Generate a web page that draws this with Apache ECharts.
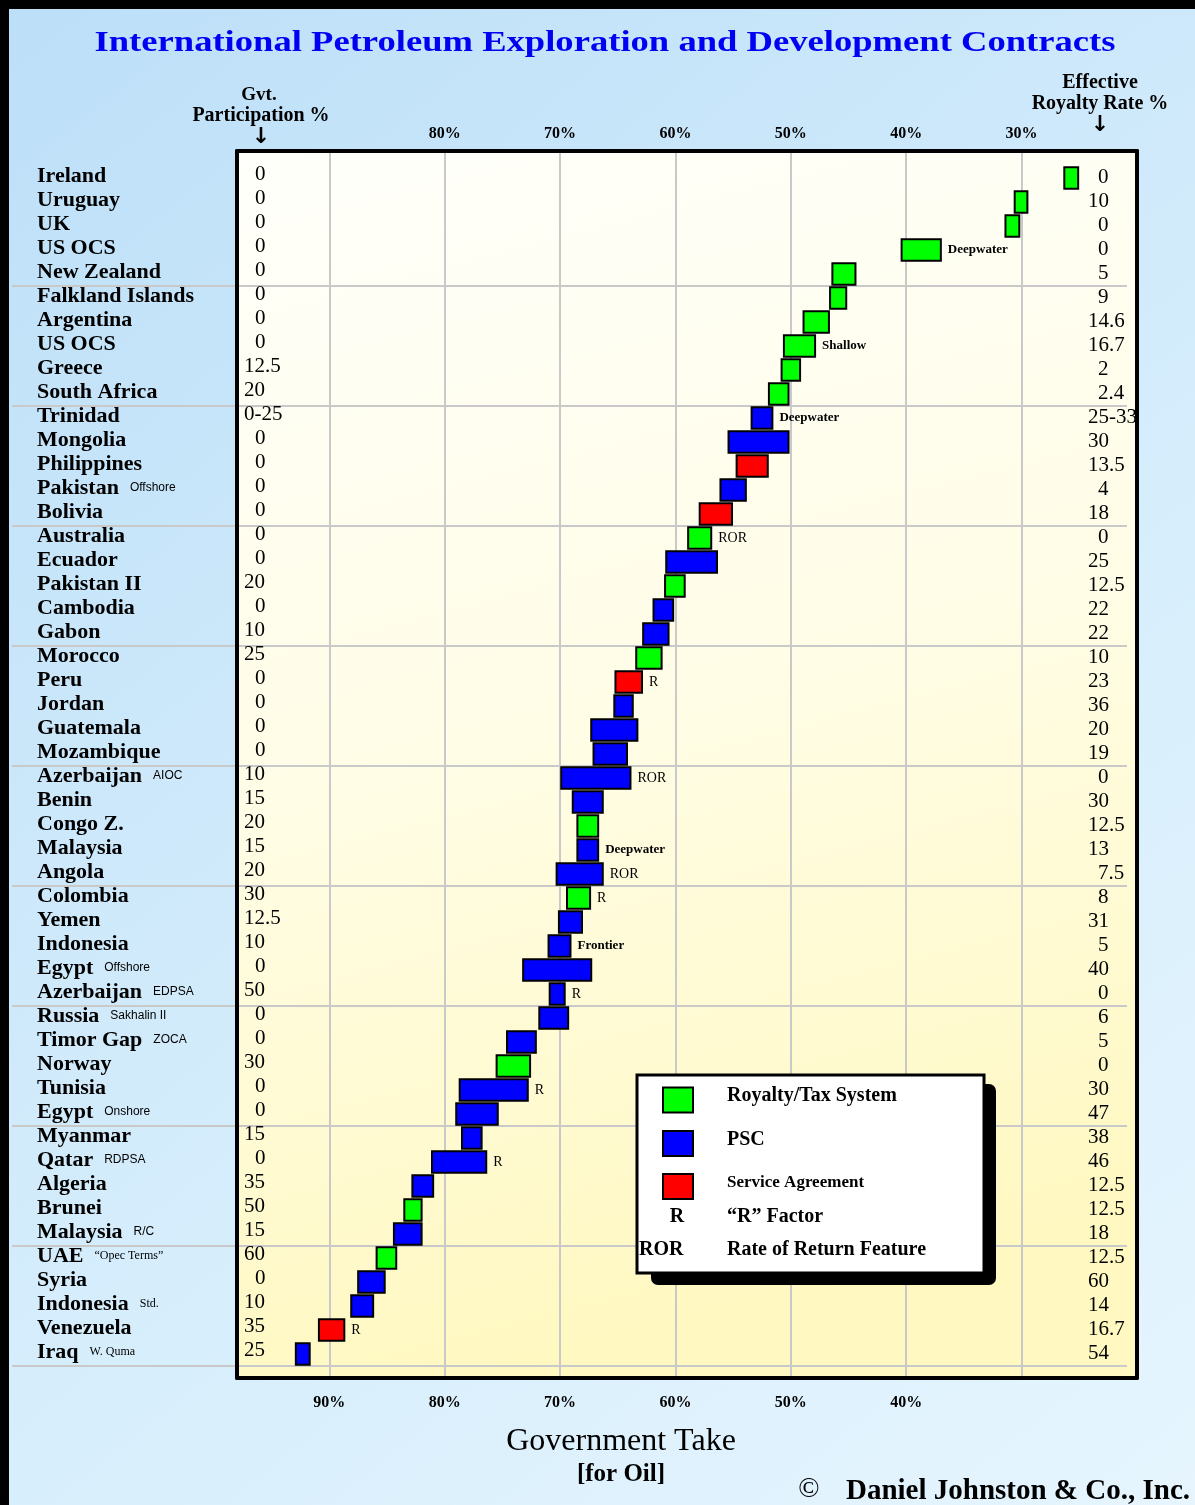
<!DOCTYPE html>
<html>
<head>
<meta charset="utf-8">
<script src="https://cdn.jsdelivr.net/npm/echarts@6/dist/echarts.min.js"></script>
<style>
html,body{margin:0;padding:0;background:#fff;}
#c{width:1195px;height:1505px;}
</style>
</head>
<body>
<div id="c"></div>
<script>
// ---------------- DATA ----------------
const countries = ['Ireland','Uruguay','UK','US OCS','New Zealand','Falkland Islands','Argentina','US OCS','Greece','South Africa',
  'Trinidad','Mongolia','Philippines','Pakistan','Bolivia','Australia','Ecuador','Pakistan II','Cambodia','Gabon',
  'Morocco','Peru','Jordan','Guatemala','Mozambique','Azerbaijan','Benin','Congo Z.','Malaysia','Angola',
  'Colombia','Yemen','Indonesia','Egypt','Azerbaijan','Russia','Timor Gap','Norway','Tunisia','Egypt',
  'Myanmar','Qatar','Algeria','Brunei','Malaysia','UAE','Syria','Indonesia','Venezuela','Iraq'];

const countryNotes = ['','','','','','','','','','',
  '','','','Offshore','','','','','','',
  '','','','','','AIOC','','','','',
  '','','','Offshore','EDPSA','Sakhalin II','ZOCA','','','Onshore',
  '','RDPSA','','','R/C','\u201cOpec Terms\u201d','','Std.','','W. Quma'];

const participation = ['0','0','0','0','0','0','0','0','12.5','20',
  '0-25','0','0','0','0','0','0','20','0','10',
  '25','0','0','0','0','10','15','20','15','20',
  '30','12.5','10','0','50','0','0','30','0','0',
  '15','0','35','50','15','60','0','10','35','25'];

const royalty = ['0','10','0','0','5','9','14.6','16.7','2','2.4',
  '25-33','30','13.5','4','18','0','25','12.5','22','22',
  '10','23','36','20','19','0','30','12.5','13','7.5',
  '8','31','5','40','0','6','5','0','30','47',
  '38','46','12.5','12.5','18','12.5','60','14','16.7','54'];

// Government take range (%) : high end (left) and low end (right)
const takeHigh = [26.3,30.6,31.4,40.4,46.4,46.6,48.9,50.6,50.8,51.9,
  53.4,55.4,54.7,56.1,57.9,58.9,60.8,60.9,61.9,62.8,
  63.4,65.2,65.3,67.3,67.1,69.9,68.9,68.5,68.5,70.3,
  69.4,70.1,71.0,73.2,70.9,71.8,74.6,75.5,78.7,79.0,
  78.5,81.1,82.8,83.5,84.4,85.9,87.5,88.1,90.9,92.9];
const takeLow = [25.1,29.5,30.2,37.0,44.4,45.2,46.7,47.9,49.2,50.2,
  51.6,50.2,52.0,53.9,55.1,56.9,56.4,59.2,60.2,60.6,
  61.2,62.9,63.7,63.3,64.2,63.9,66.3,66.7,66.7,66.3,
  67.4,68.1,69.1,67.3,69.6,69.3,72.1,72.6,72.8,75.4,
  76.8,76.4,81.0,82.0,82.0,84.2,85.2,86.2,88.7,91.7];

// G = Royalty/Tax System, P = PSC, S = Service Agreement
const systemType = ['G','G','G','G','G','G','G','G','G','G',
  'P','P','S','P','S','G','P','G','P','P',
  'G','S','P','P','P','P','P','G','P','P',
  'G','P','P','P','P','P','P','G','P','P',
  'P','P','P','G','P','G','P','P','S','P'];

const remarks = ['','','','Deepwater','','','','Shallow','','',
  'Deepwater','','','','','ROR','','','','',
  '','R','','','','ROR','','','Deepwater','ROR',
  'R','','Frontier','','R','','','','R','',
  '','R','','','','','','','R',''];

const topTicks = [80,70,60,50,40,30];
const bottomTicks = [90,80,70,60,50,40];

const systemNames = {G:'Royalty/Tax System', P:'PSC', S:'Service Agreement'};
const systemColors = {G:'#00ff00', P:'#0000ff', S:'#ff0000'};

// ---------------- CHART ----------------
const SERIF = '"Liberation Serif", "Times New Roman", serif';
const SANS = '"Liberation Sans", Arial, sans-serif';
const sansNotes = new Set(['Offshore','Onshore','AIOC','EDPSA','ZOCA','RDPSA','R/C','Sakhalin II']);

function numLabel(s) {
  const pad = s.split('.')[0].length === 1;
  return (pad ? '{p|' : '{q|') + s + '}';
}

function renderBox(params, api) {
  const row = api.value(0);
  const a = api.coord([api.value(1), row]);
  const b = api.coord([api.value(2), row]);
  const h = api.size([0, 1])[1] * 0.9;
  const x0 = Math.min(a[0], b[0]), x1 = Math.max(a[0], b[0]);
  const cy = a[1];
  const kids = [{
    type: 'rect',
    shape: {x: x0, y: cy - h / 2, width: x1 - x0, height: h},
    style: {fill: api.visual('color'), stroke: '#000', lineWidth: 2}
  }];
  const r = remarks[row];
  if (r) {
    const bold = r.length > 3;
    kids.push({
      type: 'text',
      style: {
        text: r, x: x1 + 7, y: cy, align: 'left', verticalAlign: 'middle',
        fontFamily: SERIF, fontSize: bold ? 13 : 14, fontWeight: bold ? 'bold' : 'normal', fill: '#000'
      }
    });
  }
  return {type: 'group', children: kids};
}

const series = ['G','P','S'].map(t => ({
  name: systemNames[t],
  type: 'custom',
  coordinateSystem: 'cartesian2d',
  xAxisIndex: 3,
  yAxisIndex: 5,
  clip: false,
  z: 3,
  itemStyle: {color: systemColors[t]},
  encode: {x: [1, 2], y: 0},
  renderItem: renderBox,
  data: countries.map((c, i) => [i, takeHigh[i], takeLow[i]]).filter(d => systemType[d[0]] === t)
}));

const frameLine = {show: true, onZero: false, lineStyle: {color: '#000', width: 4}};
const gridLine = {color: '#c9c9c9', width: 2};

const option = {
  animation: false,
  backgroundColor: {
    type: 'linear', x: 0, y: 0, x2: 1, y2: 1,
    colorStops: [{offset: 0, color: '#bcdff8'}, {offset: 0.6, color: '#d7eefc'}, {offset: 1, color: '#e6f5fe'}]
  },
  grid: [
    {left: 237, right: 58, top: 151, bottom: 127, show: true, borderWidth: 0, outerBoundsMode: 'none',
     backgroundColor: {type: 'linear', x: 0, y: 0, x2: 0.35, y2: 1,
       colorStops: [{offset: 0, color: '#fffffb'}, {offset: 0.5, color: '#fffde6'}, {offset: 1, color: '#fff8c0'}]}},
    {left: 12, right: 68, top: 166, bottom: 139, outerBoundsMode: 'none'},
    {left: 237, right: 58, top: 166, bottom: 139, outerBoundsMode: 'none'}
  ],
  xAxis: [
    {gridIndex: 0, type: 'value', position: 'top', min: 20, max: 98, interval: 10, inverse: true,
     axisLine: frameLine, axisTick: {show: false},
     axisLabel: {margin: 9, color: '#000', fontFamily: SERIF, fontWeight: 'bold', fontSize: 16,
       formatter: v => topTicks.indexOf(v) >= 0 ? v + '%' : ''},
     splitLine: {show: true, lineStyle: gridLine}},
    {gridIndex: 0, type: 'value', position: 'bottom', min: 20, max: 98, interval: 10, inverse: true,
     axisLine: frameLine, axisTick: {show: false},
     axisLabel: {margin: 17, color: '#000', fontFamily: SERIF, fontWeight: 'bold', fontSize: 16,
       formatter: v => bottomTicks.indexOf(v) >= 0 ? v + '%' : ''},
     splitLine: {show: false}},
    {gridIndex: 1, type: 'value', show: false},
    {gridIndex: 2, type: 'value', min: 20, max: 98, inverse: true, show: false}
  ],
  yAxis: [
    {gridIndex: 0, type: 'value', position: 'left', z: 5, axisLine: frameLine, axisTick: {show: false},
     axisLabel: {show: false}, splitLine: {show: false}},
    {gridIndex: 0, type: 'value', position: 'right', z: 5, axisLine: frameLine, axisTick: {show: false},
     axisLabel: {show: false}, splitLine: {show: false}},
    {gridIndex: 1, type: 'category', data: countries, inverse: true, position: 'left',
     axisLine: {show: false}, axisTick: {show: false},
     splitLine: {show: true, interval: (i) => i > 0 && i % 5 === 0, lineStyle: gridLine},
     axisLabel: {interval: 0, align: 'left', margin: -25, padding: [0, 0, 4, 0],
       formatter: (v, i) => {
         let s = '{n|' + countries[i] + '}';
         const nt = countryNotes[i];
         if (nt) s += (sansNotes.has(nt) ? '{t|' : '{s|') + nt + '}';
         return s;
       },
       rich: {
         n: {fontFamily: SERIF, fontWeight: 'bold', fontSize: 22, color: '#000'},
         s: {fontFamily: SERIF, fontSize: 12, color: '#000', padding: [0, 0, 1, 11]},
         t: {fontFamily: SANS, fontSize: 12, color: '#000', padding: [0, 0, 1, 11]}
       }}},
    {gridIndex: 1, type: 'category', data: countries, inverse: true, position: 'left',
     axisLine: {show: false}, axisTick: {show: false}, splitLine: {show: false},
     axisLabel: {interval: 0, align: 'left', margin: -232, padding: [0, 0, 8, 0],
       formatter: (v, i) => numLabel(participation[i]),
       rich: {
         p: {fontFamily: SERIF, fontSize: 21, color: '#000', padding: [0, 0, 0, 11]},
         q: {fontFamily: SERIF, fontSize: 21, color: '#000'}
       }}},
    {gridIndex: 1, type: 'category', data: countries, inverse: true, position: 'right',
     axisLine: {show: false}, axisTick: {show: false}, splitLine: {show: false},
     axisLabel: {interval: 0, align: 'left', margin: -39, padding: [0, 0, 1, 0],
       formatter: (v, i) => numLabel(royalty[i]),
       rich: {
         p: {fontFamily: SERIF, fontSize: 21, color: '#000', padding: [0, 0, 0, 10]},
         q: {fontFamily: SERIF, fontSize: 21, color: '#000'}
       }}},
    {gridIndex: 2, type: 'category', data: countries, inverse: true, show: false}
  ],
  legend: {
    data: [systemNames.G, systemNames.P, systemNames.S],
    orient: 'vertical', left: 662, top: 1086, padding: 0,
    itemWidth: 30, itemHeight: 25, itemGap: 16, icon: 'rect', selectedMode: false, z: 30,
    itemStyle: {borderColor: '#000', borderWidth: 2},
    formatter: name => name === 'Service Agreement' ? '{s|' + name + '}' : '{m|' + name + '}',
    textStyle: {
      color: '#000', fontFamily: SERIF, fontWeight: 'bold', fontSize: 20, padding: [0, 0, 8, 29],
      rich: {
        m: {fontFamily: SERIF, fontWeight: 'bold', fontSize: 20, color: '#000'},
        s: {fontFamily: SERIF, fontWeight: 'bold', fontSize: 17, color: '#000'}
      }
    }
  },
  graphic: [
    {type: 'rect', z: 50, shape: {x: 0, y: 0, width: 1195, height: 9}, style: {fill: '#000'}},
    {type: 'rect', z: 50, shape: {x: 0, y: 0, width: 9, height: 1505}, style: {fill: '#000'}},
    {type: 'text', x: 605, y: 43, scaleX: 1.22, z: 10,
     style: {text: 'International Petroleum Exploration and Development Contracts', align: 'center', verticalAlign: 'middle',
       font: 'bold 30px ' + SERIF, fill: '#0000f2'}},
    {type: 'text', x: 259, y: 95, z: 10, style: {text: 'Gvt.', align: 'center', verticalAlign: 'middle', font: 'bold 19px ' + SERIF, fill: '#000'}},
    {type: 'text', x: 261, y: 116, z: 10, style: {text: 'Participation %', align: 'center', verticalAlign: 'middle', font: 'bold 20px ' + SERIF, fill: '#000'}},
    {type: 'text', x: 261, y: 137, z: 10, style: {text: '\u2193', align: 'center', verticalAlign: 'middle', font: 'bold 22px "DejaVu Sans"', fill: '#000'}},
    {type: 'text', x: 1100, y: 83, z: 10, style: {text: 'Effective', align: 'center', verticalAlign: 'middle', font: 'bold 20px ' + SERIF, fill: '#000'}},
    {type: 'text', x: 1100, y: 104, z: 10, style: {text: 'Royalty Rate %', align: 'center', verticalAlign: 'middle', font: 'bold 20px ' + SERIF, fill: '#000'}},
    {type: 'text', x: 1100, y: 125, z: 10, style: {text: '\u2193', align: 'center', verticalAlign: 'middle', font: 'bold 22px "DejaVu Sans"', fill: '#000'}},
    {type: 'text', x: 621, y: 1442, z: 10, style: {text: 'Government Take', align: 'center', verticalAlign: 'middle', font: '32px ' + SERIF, fill: '#000'}},
    {type: 'text', x: 621, y: 1475, z: 10, style: {text: '[for Oil]', align: 'center', verticalAlign: 'middle', font: 'bold 25px ' + SERIF, fill: '#000'}},
    {type: 'text', x: 809, y: 1490, z: 10, style: {text: '\u00a9', align: 'center', verticalAlign: 'middle', font: '28px ' + SERIF, fill: '#000'}},
    {type: 'text', x: 1190, y: 1492, z: 10, style: {text: 'Daniel Johnston & Co., Inc.', align: 'right', verticalAlign: 'middle', font: 'bold 29px ' + SERIF, fill: '#000'}},
    // legend frame
    {type: 'rect', z: 19, shape: {x: 651, y: 1084, width: 345, height: 201, r: 7}, style: {fill: '#000'}},
    {type: 'rect', z: 20, shape: {x: 637, y: 1075, width: 347, height: 198}, style: {fill: '#fff', stroke: '#000', lineWidth: 3}},
    {type: 'text', x: 677, y: 1217, z: 31, style: {text: 'R', align: 'center', verticalAlign: 'middle', font: 'bold 20px ' + SERIF, fill: '#000'}},
    {type: 'text', x: 727, y: 1217, z: 31, style: {text: '\u201cR\u201d Factor', align: 'left', verticalAlign: 'middle', font: 'bold 20px ' + SERIF, fill: '#000'}},
    {type: 'text', x: 639, y: 1250, z: 31, style: {text: 'ROR', align: 'left', verticalAlign: 'middle', font: 'bold 20px ' + SERIF, fill: '#000'}},
    {type: 'text', x: 727, y: 1250, z: 31, style: {text: 'Rate of Return Feature', align: 'left', verticalAlign: 'middle', font: 'bold 20px ' + SERIF, fill: '#000'}}
  ],
  series: series
};

const chart = echarts.init(document.getElementById('c'), null, {renderer: 'canvas'});
chart.setOption(option);
</script>
</body>
</html>
